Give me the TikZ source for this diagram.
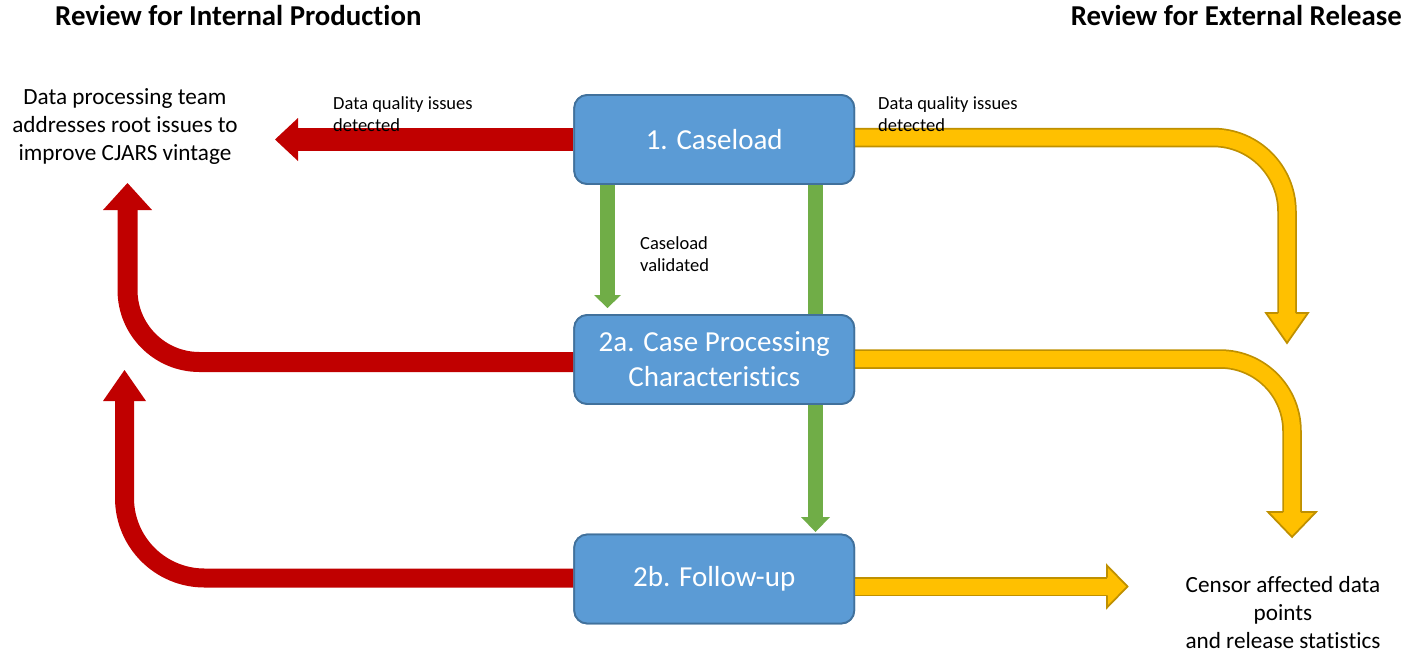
\documentclass[tikz,border=0pt]{standalone}
\usepackage{fontspec}
\setmainfont{Carlito}[Ligatures={NoCommon,NoRare}]
\usetikzlibrary{calc}

\definecolor{boxfill}{HTML}{5B9BD5}
\definecolor{boxline}{HTML}{41719C}
\definecolor{redarrow}{HTML}{C00000}
\definecolor{greenarrow}{HTML}{70AD47}
\definecolor{goldfill}{HTML}{FFC000}
\definecolor{goldline}{HTML}{BF9000}

\tikzset{
  stagebox/.style={draw=boxline, line width=1.8pt, fill=boxfill,
    rounded corners=13pt, minimum width=280pt, minimum height=89pt,
    inner sep=0pt, text=white, align=center,
    font=\fontsize{29}{35}\selectfont},
  redshaft/.style={draw=redarrow, line width=#1, line cap=butt},
  greenshaft/.style={draw=greenarrow, line width=#1, line cap=butt},
  goldshaft/.style={draw=goldline, line width=1.75pt, double=goldfill,
    double distance=#1, line cap=butt},
  goldhead/.style={fill=goldfill, draw=goldline, line width=1.75pt,
    line join=miter},
  heading/.style={inner sep=0pt, font=\fontsize{28.8}{34}\selectfont\bfseries},
  note/.style={inner sep=0pt, font=\fontsize{18.5}{22.5}\selectfont},
  outcome/.style={inner sep=0pt, font=\fontsize{23.2}{28}\selectfont},
}

\begin{document}
\begin{tikzpicture}[x=1pt, y=-1pt]
  \useasboundingbox (0,0) rectangle (1403,654);

  % stage boxes (placed first so the arrows can refer to them)
  \node[stagebox] (c1)  at (714.25,139.5) {1. Caseload};
  \node[stagebox] (c2a) at (714.25,359.5) {2a. Case Processing\\Characteristics};
  \node[stagebox] (c2b) at (714.25,579)   {2b. Follow-up};

  % arrow tips and bends
  \coordinate (r1tip)  at (275,139.5);
  \coordinate (r2tip)  at (127.5,183);
  \coordinate (r2bend) at (127.5,362);
  \coordinate (r3tip)  at (124.5,370);
  \coordinate (r3bend) at (124.5,578);
  \coordinate (g1tip)  at (607.5,308);
  \coordinate (g2tip)  at (815.5,532);
  \coordinate (y1tip)  at (1287,343);
  \coordinate (y1bend) at (1287,137.5);
  \coordinate (y2tip)  at (1292,537);
  \coordinate (y2bend) at (1292,359);
  \coordinate (y3tip)  at (1127.5,586.5);

  % --- red: back to the data processing team ---
  \draw[redshaft=23pt] (c1.west) -- ($(r1tip)+(23,0)$);
  \fill[redarrow] (r1tip) -- ++(23,-21.5) -- ++(0,43) -- cycle;

  \draw[redshaft=20pt, rounded corners=72pt]
    (c2a.west |- r2bend) -- (r2bend) -- ($(r2tip)+(0,27)$);
  \fill[redarrow] (r2tip) -- ++(-24.5,27) -- ++(49,0) -- cycle;

  \draw[redshaft=19pt, rounded corners=80pt]
    (c2b.west |- r3bend) -- (r3bend) -- ($(r3tip)+(0,31)$);
  \fill[redarrow] (r3tip) -- ++(-21.5,31) -- ++(43,0) -- cycle;

  % --- green: validated, move on ---
  \draw[greenshaft=15pt] (c1.south -| g1tip) -- ($(g1tip)+(0,-13)$);
  \fill[greenarrow] (g1tip) -- ++(-13.5,-13) -- ++(27,0) -- cycle;

  \draw[greenshaft=15pt] (c1.south -| g2tip) -- ($(g2tip)+(0,-15)$);
  \fill[greenarrow] (g2tip) -- ++(-14.5,-15) -- ++(29,0) -- cycle;

  % --- gold: towards external release ---
  \draw[goldshaft=16pt, rounded corners=74pt]
    (c1.east |- y1bend) -- (y1bend) -- ($(y1tip)+(0,-30)$);
  \filldraw[goldhead] ($(y1tip)+(-8.9,-30)$) -- ($(y1tip)+(-21,-30)$)
    -- (y1tip) -- ($(y1tip)+(21,-30)$) -- ($(y1tip)+(8.9,-30)$);

  \draw[goldshaft=16pt, rounded corners=72pt]
    (c2a.east |- y2bend) -- (y2bend) -- ($(y2tip)+(0,-25)$);
  \filldraw[goldhead] ($(y2tip)+(-8.9,-25)$) -- ($(y2tip)+(-24,-25)$)
    -- (y2tip) -- ($(y2tip)+(24,-25)$) -- ($(y2tip)+(8.9,-25)$);

  \draw[goldshaft=16pt] (c2b.east |- y3tip) -- ($(y3tip)+(-20.5,0)$);
  \filldraw[goldhead] ($(y3tip)+(-20.5,-8.9)$) -- ($(y3tip)+(-20.5,-21)$)
    -- (y3tip) -- ($(y3tip)+(-20.5,21)$) -- ($(y3tip)+(-20.5,8.9)$);

  % redraw boxes on top of the shafts
  \node[stagebox] at (c1)  {1. Caseload};
  \node[stagebox] at (c2a) {2a. Case Processing\\Characteristics};
  \node[stagebox] at (c2b) {2b. Follow-up};

  % headings
  \node[heading, anchor=base west] (hint) at (55,25) {Review for Internal Production};
  \node[heading, anchor=base east] (hext) at (1402,25) {Review for External Release};

  % outcomes
  \node[outcome, anchor=base] (fix) at (125,104)
    {\begin{tabular}[t]{@{}c@{}}Data processing team\\addresses root issues to\\improve CJARS vintage\end{tabular}};
  \node[outcome, anchor=base] (censor) at (1283,592)
    {\begin{tabular}[t]{@{}c@{}}Censor affected data\\points\\and release statistics\end{tabular}};

  % arrow labels
  \node[note, anchor=base west] (lblL) at (333,109)
    {\begin{tabular}[t]{@{}l@{}}Data quality issues\\detected\end{tabular}};
  \node[note, anchor=base west] (lblR) at (878,109)
    {\begin{tabular}[t]{@{}l@{}}Data quality issues\\detected\end{tabular}};
  \node[note, anchor=base west] (lblV) at (640,249)
    {\begin{tabular}[t]{@{}l@{}}Caseload\\validated\end{tabular}};
\end{tikzpicture}
\end{document}
